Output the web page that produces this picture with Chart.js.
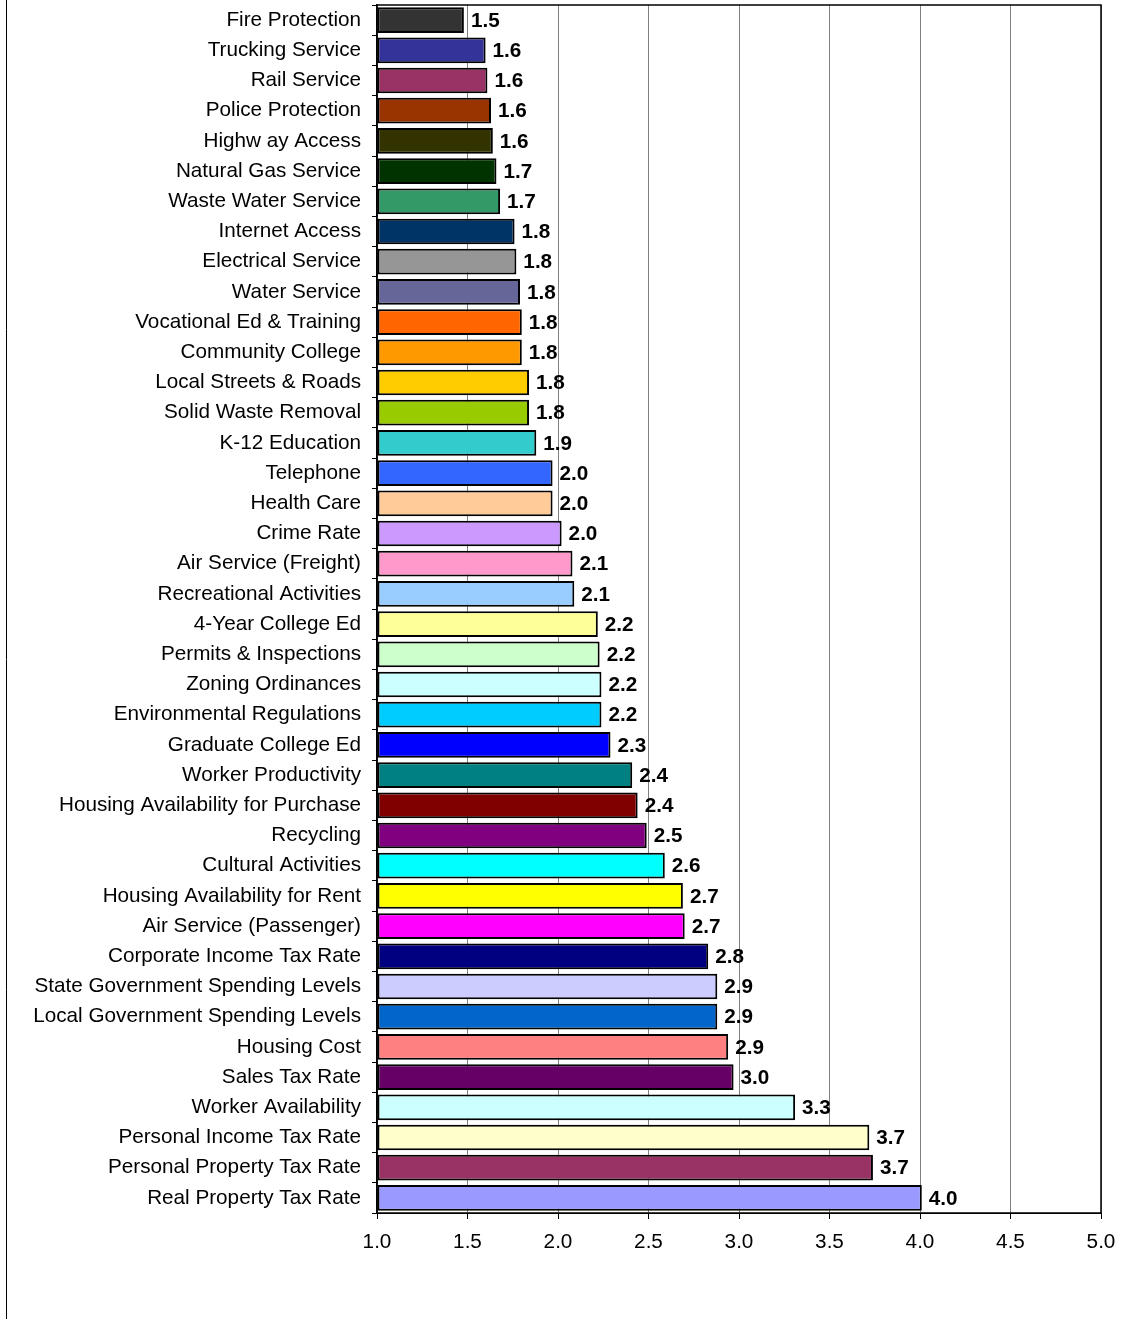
<!DOCTYPE html>
<html>
<head>
<meta charset="utf-8">
<script src="https://cdn.jsdelivr.net/npm/chart.js@4/dist/chart.umd.min.js"></script>
<style>
  body { margin: 0; background: #fff; }
  canvas { display: block; }
</style>
</head>
<body>
<canvas id="factorChart" width="1133" height="1319"></canvas>
<script>
const factors = [
  'Fire Protection', 'Trucking Service', 'Rail Service', 'Police Protection',
  'Highw ay Access', 'Natural Gas Service', 'Waste Water Service', 'Internet Access',
  'Electrical Service', 'Water Service', 'Vocational Ed & Training', 'Community College',
  'Local Streets & Roads', 'Solid Waste Removal', 'K-12 Education', 'Telephone',
  'Health Care', 'Crime Rate', 'Air Service (Freight)', 'Recreational Activities',
  '4-Year College Ed', 'Permits & Inspections', 'Zoning Ordinances', 'Environmental Regulations',
  'Graduate College Ed', 'Worker Productivity', 'Housing Availability for Purchase', 'Recycling',
  'Cultural Activities', 'Housing Availability for Rent', 'Air Service (Passenger)', 'Corporate Income Tax Rate',
  'State Government Spending Levels', 'Local Government Spending Levels', 'Housing Cost', 'Sales Tax Rate',
  'Worker Availability', 'Personal Income Tax Rate', 'Personal Property Tax Rate', 'Real Property Tax Rate'
];

const ratings = [
  1.48, 1.60, 1.61, 1.63, 1.64, 1.66, 1.68, 1.76,
  1.77, 1.79, 1.80, 1.80, 1.84, 1.84, 1.88, 1.97,
  1.97, 2.02, 2.08, 2.09, 2.22, 2.23, 2.24, 2.24,
  2.29, 2.41, 2.44, 2.49, 2.59, 2.69, 2.70, 2.83,
  2.88, 2.88, 2.94, 2.97, 3.31, 3.72, 3.74, 4.01
];

const barColors = [
  '#333333', '#333399', '#993366', '#993300', '#333300', '#003300', '#339966', '#003366',
  '#969696', '#666699', '#FF6600', '#FF9900', '#FFCC00', '#99CC00', '#33CCCC', '#3366FF',
  '#FFCC99', '#CC99FF', '#FF99CC', '#99CCFF', '#FFFF99', '#CCFFCC', '#CCFFFF', '#00CCFF',
  '#0000FF', '#008080', '#800000', '#800080', '#00FFFF', '#FFFF00', '#FF00FF', '#000080',
  '#CCCCFF', '#0066CC', '#FF8080', '#660066', '#CCFFFF', '#FFFFCC', '#993366', '#9999FF'
];

const xTicks = [1.0, 1.5, 2.0, 2.5, 3.0, 3.5, 4.0, 4.5, 5.0];

const FONT = '"Liberation Sans", Arial, sans-serif';

// value labels to the right of each bar
const valueLabels = {
  id: 'valueLabels',
  afterDatasetsDraw(chart) {
    const ctx = chart.ctx;
    const meta = chart.getDatasetMeta(0);
    ctx.save();
    ctx.font = 'bold 20.7px ' + FONT;
    ctx.fillStyle = '#000';
    ctx.textAlign = 'left';
    ctx.textBaseline = 'middle';
    meta.data.forEach((bar, i) => {
      ctx.fillText(ratings[i].toFixed(1), bar.x + 7, bar.y + 1);
    });
    ctx.restore();
  }
};

// plot frame and outer left border
const frame = {
  id: 'frame',
  afterDraw(chart) {
    const a = chart.chartArea;
    const ctx = chart.ctx;
    ctx.save();
    ctx.strokeStyle = '#000';
    ctx.lineWidth = 1.5;
    ctx.strokeRect(a.left, a.top, a.right - a.left, a.bottom - a.top);
    ctx.lineWidth = 1;
    ctx.beginPath();
    ctx.moveTo(6.5, 0);
    ctx.lineTo(6.5, chart.height);
    ctx.stroke();
    ctx.restore();
  }
};

const ctx = document.getElementById('factorChart').getContext('2d');
new Chart(ctx, {
  type: 'bar',
  data: {
    labels: factors,
    datasets: [{
      data: ratings,
      base: 1,
      backgroundColor: barColors,
      borderColor: '#000',
      borderWidth: 2,
      borderSkipped: false,
      barPercentage: 0.85,
      categoryPercentage: 1.0
    }]
  },
  options: {
    indexAxis: 'y',
    responsive: false,
    animation: false,
    layout: { padding: { top: 5, right: 32, left: 0, bottom: 0 } },
    plugins: {
      legend: { display: false },
      tooltip: { enabled: false }
    },
    scales: {
      x: {
        min: 1,
        max: 5,
        afterBuildTicks: (scale) => { scale.ticks = xTicks.map(v => ({ value: v })); },
        afterFit: (scale) => {
          scale.height = 106;
          scale.paddingLeft = 0;
          scale.paddingRight = 0;
        },
        ticks: {
          color: '#000',
          font: { family: FONT, size: 20.7 },
          padding: 11,
          maxRotation: 0,
          callback: (v) => Number(v).toFixed(1)
        },
        grid: { color: '#808080', lineWidth: 1, tickLength: 6, tickColor: '#000' },
        border: { color: '#000' }
      },
      y: {
        afterFit: (scale) => {
          scale.width = 377;
          scale.paddingTop = 0;
          scale.paddingBottom = 0;
        },
        ticks: {
          color: '#000',
          font: { family: FONT, size: 20.7 },
          padding: 11,
          autoSkip: false
        },
        grid: { drawOnChartArea: false, tickLength: 5, tickColor: '#000', offset: true },
        border: { color: '#000', width: 1.5 }
      }
    }
  },
  plugins: [valueLabels, frame]
});
</script>
</body>
</html>
